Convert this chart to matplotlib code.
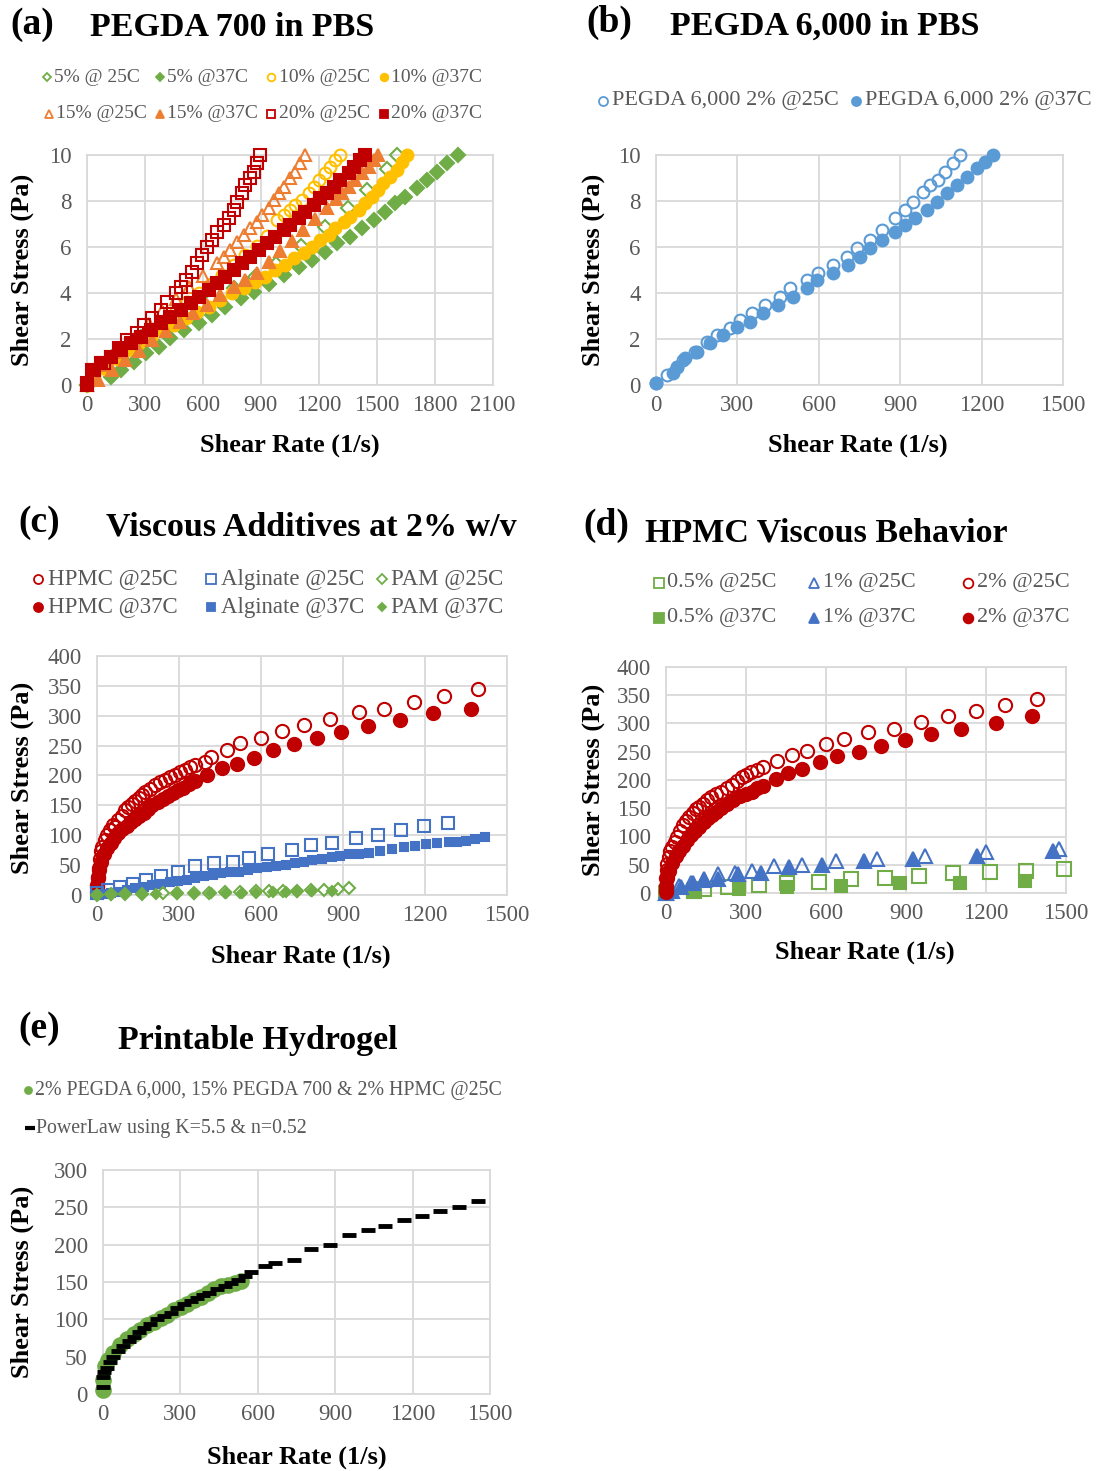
import matplotlib.pyplot as plt
from matplotlib.lines import Line2D

plt.rcParams['font.family'] = ['Liberation Serif', 'DejaVu Serif']

W, H = 1101, 1471

# ==== colours ====
GREEN = '#70AD47'
YELLOW = '#FFC000'
ORANGE = '#ED7D31'
RED = '#C00000'
LBLUE = '#5B9BD5'
BLUE = '#4472C4'
GRID = '#D9D9D9'
TICK = '#595959'

# ==== (a) PEGDA 700 in PBS ====
a_x_5_25 = [0, 50, 160, 280, 400, 520, 640, 760, 870, 980, 1110, 1230, 1350, 1450, 1550, 1605]
a_y_5_25 = [0, 0.6, 1.5, 2.1, 2.6, 3.2, 3.7, 4.2, 4.7, 5.25, 6.05, 6.85, 7.7, 8.5, 9.4, 10.0]
a_x_5_37 = [0, 124, 175, 244, 304, 373, 433, 502, 580, 648, 717, 795, 863, 941, 1018, 1096,
            1165, 1233, 1293, 1362, 1423, 1483, 1543, 1594, 1646, 1706, 1758, 1810, 1861, 1921]
a_y_5_37 = [0, 0.36, 0.65, 1.01, 1.38, 1.67, 2.03, 2.39, 2.68, 3.04, 3.41, 3.77, 4.06, 4.41, 4.78, 5.14,
            5.43, 5.80, 6.16, 6.45, 6.81, 7.17, 7.54, 7.90, 8.19, 8.55, 8.91, 9.28, 9.64, 10.0]
a_x_10_25 = [0, 40, 100, 160, 220, 280, 340, 400, 460, 520, 580, 640, 700, 760, 820, 880, 930,
             984, 1018, 1053, 1078, 1113, 1147, 1173, 1199, 1233, 1259, 1285, 1311]
a_y_10_25 = [0, 0.25, 0.7, 1.15, 1.6, 2.0, 2.4, 2.8, 3.2, 3.6, 4.0, 4.4, 4.8, 5.2, 5.65, 6.05, 6.5,
             7.17, 7.39, 7.61, 7.83, 8.04, 8.33, 8.62, 8.91, 9.20, 9.49, 9.78, 10.0]
a_x_10_37 = [0, 38, 89, 150, 210, 270, 330, 391, 450, 511, 571, 631, 691, 752, 812, 872, 924, 975,
             1027, 1070, 1121, 1165, 1207, 1250, 1285, 1328, 1362, 1405, 1440, 1474, 1508, 1534, 1569,
             1603, 1629, 1655]
a_y_10_37 = [0, 0.43, 0.80, 1.16, 1.52, 1.81, 2.10, 2.39, 2.61, 2.90, 3.19, 3.41, 3.70, 3.99, 4.20,
             4.49, 4.71, 5.00, 5.22, 5.51, 5.72, 6.01, 6.30, 6.52, 6.81, 7.10, 7.32, 7.61, 7.90, 8.19,
             8.48, 8.77, 9.06, 9.35, 9.71, 10.0]
a_x_15_25 = [0, 50, 110, 180, 250, 320, 390, 460, 530, 600, 674, 709, 743, 778, 812, 846, 881, 907,
             941, 966, 992, 1018, 1053, 1078, 1104, 1130]
a_y_15_25 = [0, 0.35, 0.85, 1.45, 2.05, 2.65, 3.2, 3.75, 4.25, 4.75, 5.29, 5.58, 5.87, 6.23, 6.52,
             6.81, 7.10, 7.39, 7.68, 8.04, 8.33, 8.62, 8.99, 9.28, 9.64, 10.0]
a_x_15_37 = [0, 60, 130, 200, 270, 340, 410, 480, 550, 620, 690, 760, 820, 880, 940, 1000, 1060,
             1120, 1180, 1240, 1290, 1319, 1354, 1388, 1423, 1457, 1483, 1508]
a_y_15_37 = [0, 0.2, 0.65, 1.1, 1.5, 1.95, 2.35, 2.75, 3.15, 3.5, 3.9, 4.25, 4.55, 4.86, 5.33, 5.81,
             6.28, 6.76, 7.23, 7.71, 8.10, 8.33, 8.62, 8.91, 9.20, 9.49, 9.78, 10.0]
a_x_20_25 = [0, 38, 89, 124, 167, 210, 262, 296, 339, 382, 416, 459, 485, 511, 545, 571, 597, 623,
             648, 674, 709, 734, 760, 778, 803, 820, 846, 863, 881, 898]
a_y_20_25 = [0.1, 0.65, 0.94, 1.23, 1.59, 1.96, 2.25, 2.61, 2.90, 3.26, 3.62, 3.99, 4.28, 4.57, 4.93,
             5.29, 5.65, 6.01, 6.30, 6.67, 6.96, 7.25, 7.61, 7.97, 8.33, 8.70, 8.99, 9.28, 9.64, 10.0]
a_x_20_37 = [0, 29, 72, 124, 175, 227, 279, 330, 382, 433, 485, 537, 580, 631, 674, 717, 760, 803,
             846, 889, 932, 975, 1018, 1053, 1096, 1130, 1173, 1207, 1242, 1276, 1311, 1354, 1379,
             1414, 1440]
a_y_20_37 = [0, 0.65, 0.94, 1.23, 1.52, 1.81, 2.10, 2.39, 2.68, 2.97, 3.26, 3.55, 3.84, 4.13, 4.42,
             4.71, 5.00, 5.29, 5.58, 5.87, 6.16, 6.45, 6.74, 6.96, 7.25, 7.54, 7.83, 8.12, 8.33, 8.62,
             8.91, 9.20, 9.49, 9.78, 10.0]

# ==== (b) PEGDA 6,000 in PBS ====
b_x_25 = [0, 39, 76, 101, 144, 187, 224, 273, 310, 353, 402, 457, 494, 555, 598, 654, 703, 740,
          789, 832, 881, 918, 948, 985, 1010, 1041, 1065, 1096, 1120]
b_y_25 = [0.07, 0.43, 0.80, 1.09, 1.45, 1.88, 2.17, 2.46, 2.83, 3.12, 3.48, 3.84, 4.20, 4.57, 4.86,
          5.22, 5.58, 5.94, 6.30, 6.74, 7.25, 7.61, 7.97, 8.41, 8.70, 8.91, 9.28, 9.64, 10.0]
b_x_37 = [0, 64, 76, 107, 150, 199, 248, 297, 346, 396, 451, 506, 555, 592, 654, 709, 752, 789,
          832, 881, 918, 955, 998, 1035, 1071, 1108, 1145, 1182, 1213, 1243]
b_y_37 = [0.07, 0.51, 0.80, 1.16, 1.45, 1.81, 2.17, 2.54, 2.75, 3.12, 3.48, 3.84, 4.20, 4.57, 4.86,
          5.22, 5.58, 5.94, 6.30, 6.67, 6.96, 7.25, 7.61, 7.97, 8.33, 8.70, 9.06, 9.42, 9.71, 10.0]

# ==== (c) Viscous additives at 2% w/v ====
c_x_hpmc_25 = [0, 1, 3, 6, 10, 14, 20, 29, 38, 48, 58, 66, 77, 90, 102, 115, 127, 139, 152, 165,
               176, 194, 212, 230, 249, 267, 285, 303, 322, 341, 360, 395, 417, 474, 524, 599, 675,
               757, 851, 958, 1049, 1160, 1271, 1393]
c_y_hpmc_25 = [5, 14, 28, 45, 60, 73, 81, 92, 100, 108, 117, 114, 126, 133, 142, 147, 152, 158, 162,
               167, 173, 178, 184, 189, 193, 197, 201, 206, 210, 214, 218, 223, 231, 242, 254, 263,
               275, 284, 294, 306, 311, 323, 333, 344]
c_x_hpmc_37 = [0, 3, 8, 15, 26, 38, 52, 64, 77, 92, 108, 124, 140, 155, 171, 187, 203, 222, 241,
               260, 278, 297, 316, 338, 360, 404, 458, 513, 574, 643, 719, 805, 892, 992, 1107, 1229,
               1368]
c_y_hpmc_37 = [17, 30, 42, 55, 68, 78, 87, 96, 104, 110, 116, 122, 127, 133, 138, 144, 150, 155,
               161, 166, 171, 175, 179, 185, 191, 200, 212, 220, 229, 242, 252, 262, 273, 283, 293,
               305, 311]
c_x_alg_25 = [1, 39, 83, 133, 178, 234, 297, 360, 427, 496, 555, 625, 713, 782, 858, 949, 1028,
              1112, 1198, 1283]
c_y_alg_25 = [3, 8, 14, 19, 25, 31, 39, 48, 53, 56, 62, 69, 76, 83, 87, 95, 100, 109, 115, 121]
c_x_alg_37 = [0, 26, 52, 77, 108, 140, 171, 203, 234, 266, 297, 329, 360, 392, 423, 455, 487, 518,
              552, 587, 621, 656, 690, 725, 757, 788, 823, 858, 890, 921, 958, 996, 1034, 1078, 1122,
              1163, 1204, 1245, 1286, 1318, 1349, 1384, 1418]
c_y_alg_37 = [0, 2, 3, 5, 8, 11, 14, 17, 19, 21, 23, 25, 28, 31, 33, 36, 38, 39, 42, 45, 47, 49, 51,
              53, 56, 59, 61, 63, 65, 68, 69, 70, 73, 77, 80, 82, 85, 87, 89, 89, 90, 94, 97]
c_x_pam_25 = [0, 52, 102, 165, 240, 291, 354, 410, 467, 524, 580, 630, 681, 732, 782, 832, 883, 921]
c_y_pam_25 = [0, 1, 1, 2, 3, 3, 4, 4, 5, 5, 6, 6, 7, 7, 8, 8, 10, 12]
c_x_pam_37 = [0, 52, 102, 165, 216, 291, 354, 417, 473, 530, 580, 643, 690, 731, 788, 858]
c_y_pam_37 = [0, 0, 1, 1, 2, 2, 2, 3, 3, 4, 4, 5, 5, 5, 6, 7]

# ==== (d) HPMC viscous behavior ====
d_x_05_25 = [0, 106, 144, 233, 349, 454, 572, 692, 821, 948, 1077, 1214, 1350, 1492]
d_y_05_25 = [0, 4, 7, 11, 15, 18, 20, 24, 27, 30, 35, 38, 39, 42]
d_x_05_37 = [0, 100, 275, 454, 657, 878, 1104, 1347]
d_y_05_37 = [0, 2, 7, 11, 13, 17, 17, 21]
d_x_1_25 = [0, 11, 49, 94, 144, 195, 258, 322, 404, 511, 638, 790, 973, 1201, 1473]
d_y_1_25 = [0, 4, 13, 18, 24, 33, 36, 39, 48, 50, 57, 61, 66, 72, 78]
d_x_1_37 = [0, 24, 56, 100, 144, 195, 271, 357, 461, 584, 743, 926, 1167, 1452]
d_y_1_37 = [0, 4, 10, 18, 23, 24, 33, 36, 46, 49, 57, 61, 66, 74]
d_x_2_25 = [0, 0, 2, 5, 10, 16, 24, 33, 43, 52, 62, 74, 87, 100, 113, 125, 138, 154, 170, 189, 208,
            227, 246, 265, 284, 301, 318, 340, 363, 417, 471, 528, 600, 669, 758, 856, 958, 1056,
            1161, 1271, 1391]
d_y_2_25 = [5, 27, 40, 51, 63, 75, 82, 90, 99, 110, 120, 128, 135, 141, 148, 153, 158, 164, 170,
            175, 179, 185, 191, 198, 205, 209, 214, 218, 223, 233, 245, 252, 263, 273, 285, 291, 303,
            314, 322, 333, 344]
d_x_2_37 = [0, 0, 5, 11, 24, 37, 50, 62, 78, 94, 110, 125, 141, 157, 173, 189, 208, 227, 252, 277,
            300, 322, 342, 362, 413, 457, 511, 578, 642, 723, 805, 897, 992, 1106, 1237, 1372]
d_y_2_37 = [2, 13, 26, 39, 53, 66, 75, 84, 93, 102, 110, 117, 125, 132, 138, 143, 151, 158, 165,
            172, 176, 179, 185, 190, 202, 212, 220, 232, 242, 249, 260, 271, 282, 291, 301, 313]

# ==== (e) Printable hydrogel ====
e_x_gel = [0, 0, 8, 20, 40, 65, 93, 120, 145, 170, 197, 223, 249, 275, 301, 327, 353, 380, 406, 432,
           458, 484, 510, 533]
e_y_gel = [5, 19, 37, 46, 55, 65, 73, 80, 86, 92, 97, 102, 106, 112, 117, 121, 126, 130, 135, 140,
           144, 146, 149, 152]
e_x_fit = [0, 1, 5, 14, 26, 40, 58, 79, 99, 119, 138, 158, 184, 210, 236, 262, 288, 314, 340, 366,
           389, 412, 441, 471, 497, 523, 549, 575, 627, 667, 740, 807, 880, 953, 1027, 1093, 1167,
           1237, 1307, 1380, 1453]
e_y_fit = [10, 23, 29, 35, 43, 50, 57, 64, 71, 77, 83, 88, 94, 100, 104, 109, 115, 120, 124, 129,
           132, 135, 140, 144, 149, 153, 158, 164, 171, 175, 180, 194, 200, 213, 219, 225, 233, 239,
           245, 250, 258]

fig = plt.figure(figsize=(W / 100, H / 100), dpi=100)


def box(l, t, r, b):
    return [l / W, 1 - b / H, (r - l) / W, (b - t) / H]


def ftext(x, y, s, **kw):
    fig.text(x / W, 1 - y / H, s, **kw)


def style(ax, xmax, xstep, ymax, ystep):
    ax.set_xlim(0, xmax)
    ax.set_ylim(0, ymax)
    ax.set_xticks(range(0, xmax + 1, xstep))
    ax.set_yticks(range(0, ymax + 1, ystep))
    ax.grid(color=GRID, lw=1.3)
    ax.set_axisbelow(True)
    for s in ax.spines.values():
        s.set_color(GRID)
        s.set_linewidth(1.3)
    ax.tick_params(length=0, labelsize=16.5, labelcolor=TICK)
    ax.tick_params(axis='x', pad=7)
    ax.tick_params(axis='y', pad=11)


def pts(ax, x, y, marker, color, filled, ms, mew=1.5):
    ax.plot(x, y, ls='none', marker=marker, ms=ms, mec=color,
            mfc=color if filled else 'none', mew=mew, clip_on=False, zorder=3)


def key(x, y, tx, marker, color, filled, label, ms=6, size=14, mew=1.3):
    fig.add_artist(Line2D([x / W], [1 - y / H], transform=fig.transFigure, ls='none',
                          marker=marker, ms=ms, mec=color, mfc=color if filled else 'none', mew=mew))
    ftext(tx, y, label, fontsize=size, color=TICK, va='center', ha='left')


def labels(xc, xy, yx, yc):
    ftext(xc, xy, 'Shear Rate (1/s)', fontsize=19, weight='bold', ha='center', va='center')
    ftext(yx, yc, 'Shear Stress (Pa)', fontsize=19, weight='bold', ha='center', va='center',
          rotation=90)


def title(lx, ly, letter, tx, ty, s):
    ftext(lx, ly, letter, fontsize=27, weight='bold', va='center')
    ftext(tx, ty, s, fontsize=24.5, weight='bold', va='center')


# ---- (a) ----
ax = fig.add_axes(box(86.7, 155, 493, 385))
style(ax, 2100, 300, 10, 2)
pts(ax, a_x_5_25, a_y_5_25, 'D', GREEN, False, 7)
pts(ax, a_x_5_37, a_y_5_37, 'D', GREEN, True, 7)
pts(ax, a_x_10_25, a_y_10_25, 'o', YELLOW, False, 8.5)
pts(ax, a_x_10_37, a_y_10_37, 'o', YELLOW, True, 8.5)
pts(ax, a_x_15_25, a_y_15_25, '^', ORANGE, False, 9)
pts(ax, a_x_15_37, a_y_15_37, '^', ORANGE, True, 9)
pts(ax, a_x_20_25, a_y_20_25, 's', RED, False, 8.5)
pts(ax, a_x_20_37, a_y_20_37, 's', RED, True, 8.5)
labels(290, 445, 22, 270)
title(10, 24, '(a)', 90, 28, 'PEGDA 700 in PBS')
key(47, 77, 54, 'D', GREEN, False, '5% @ 25C', ms=4.5)
key(160, 77, 167, 'D', GREEN, True, '5% @37C', ms=4.5)
key(271, 77, 279, 'o', YELLOW, False, '10% @25C', ms=5.5)
key(384, 77, 391, 'o', YELLOW, True, '10% @37C', ms=5.5)
key(49, 114, 56, '^', ORANGE, False, '15% @25C', ms=6)
key(160, 114, 167, '^', ORANGE, True, '15% @37C', ms=6)
key(271, 114, 279, 's', RED, False, '20% @25C', ms=6)
key(384, 114, 391, 's', RED, True, '20% @37C', ms=6)

# ---- (b) ----
ax = fig.add_axes(box(656, 155, 1063, 385))
style(ax, 1500, 300, 10, 2)
pts(ax, b_x_25, b_y_25, 'o', LBLUE, False, 8.5)
pts(ax, b_x_37, b_y_37, 'o', LBLUE, True, 8.5)
labels(858, 445, 593, 270)
title(586, 22, '(b)', 670, 26, 'PEGDA 6,000 in PBS')
key(603, 101, 612, 'o', LBLUE, False, 'PEGDA 6,000 2% @25C', ms=6.5, size=16)
key(856, 101, 865, 'o', LBLUE, True, 'PEGDA 6,000 2% @37C', ms=6.5, size=16)

# ---- (c) ----
ax = fig.add_axes(box(97, 656, 507, 895))
style(ax, 1500, 300, 400, 50)
pts(ax, c_x_hpmc_25, c_y_hpmc_25, 'o', RED, False, 9.5)
pts(ax, c_x_hpmc_37, c_y_hpmc_37, 'o', RED, True, 9.5)
pts(ax, c_x_alg_25, c_y_alg_25, 's', BLUE, False, 9)
pts(ax, c_x_alg_37, c_y_alg_37, 's', BLUE, True, 6)
pts(ax, c_x_pam_25, c_y_pam_25, 'D', GREEN, False, 6.5)
pts(ax, c_x_pam_37, c_y_pam_37, 'D', GREEN, True, 5.5)
labels(301, 956, 22, 778)
title(18, 522, '(c)', 106, 527, 'Viscous Additives at 2% w/v')
key(38, 579, 48, 'o', RED, False, 'HPMC @25C', ms=6.5, size=16.5)
key(211, 579, 221, 's', BLUE, False, 'Alginate @25C', ms=6.5, size=16.5)
key(382, 579, 391, 'D', GREEN, False, 'PAM @25C', ms=5.5, size=16.5)
key(38, 607, 48, 'o', RED, True, 'HPMC @37C', ms=6.5, size=16.5)
key(211, 607, 221, 's', BLUE, True, 'Alginate @37C', ms=5.5, size=16.5)
key(382, 607, 391, 'D', GREEN, True, 'PAM @37C', ms=4.5, size=16.5)

# ---- (d) ----
ax = fig.add_axes(box(666, 667, 1066, 893))
style(ax, 1500, 300, 400, 50)
pts(ax, d_x_05_25, d_y_05_25, 's', GREEN, False, 9.5)
pts(ax, d_x_05_37, d_y_05_37, 's', GREEN, True, 8.5)
pts(ax, d_x_1_25, d_y_1_25, '^', BLUE, False, 9.5)
pts(ax, d_x_1_37, d_y_1_37, '^', BLUE, True, 9.5)
pts(ax, d_x_2_25, d_y_2_25, 'o', RED, False, 9.5)
pts(ax, d_x_2_37, d_y_2_37, 'o', RED, True, 9.5)
labels(865, 952, 593, 780)
title(583, 525, '(d)', 645, 533, 'HPMC Viscous Behavior')
key(659, 583, 667, 's', GREEN, False, '0.5% @25C', ms=7.5, size=16)
key(814, 583, 823, '^', BLUE, False, '1% @25C', ms=7.5, size=16)
key(968, 583, 977, 'o', RED, False, '2% @25C', ms=7, size=16)
key(659, 618, 667, 's', GREEN, True, '0.5% @37C', ms=7.5, size=16)
key(814, 618, 823, '^', BLUE, True, '1% @37C', ms=7.5, size=16)
key(968, 618, 977, 'o', RED, True, '2% @37C', ms=7, size=16)

# ---- (e) ----
ax = fig.add_axes(box(103, 1170, 490, 1394))
style(ax, 1500, 300, 300, 50)
pts(ax, e_x_gel, e_y_gel, 'o', GREEN, True, 10.5)
pts(ax, e_x_fit, e_y_fit, '_', 'black', True, 10, mew=3.5)
labels(297, 1457, 22, 1282)
title(18, 1029, '(e)', 118, 1040, 'Printable Hydrogel')
key(28, 1090, 35, 'o', GREEN, True, '2% PEGDA 6,000, 15% PEGDA 700 & 2% HPMC @25C', ms=5, size=14.3)
key(30, 1128, 36, '_', 'black', True, 'PowerLaw using K=5.5 & n=0.52', ms=7, size=14.3, mew=3)

fig.savefig('out.png', dpi=100)
